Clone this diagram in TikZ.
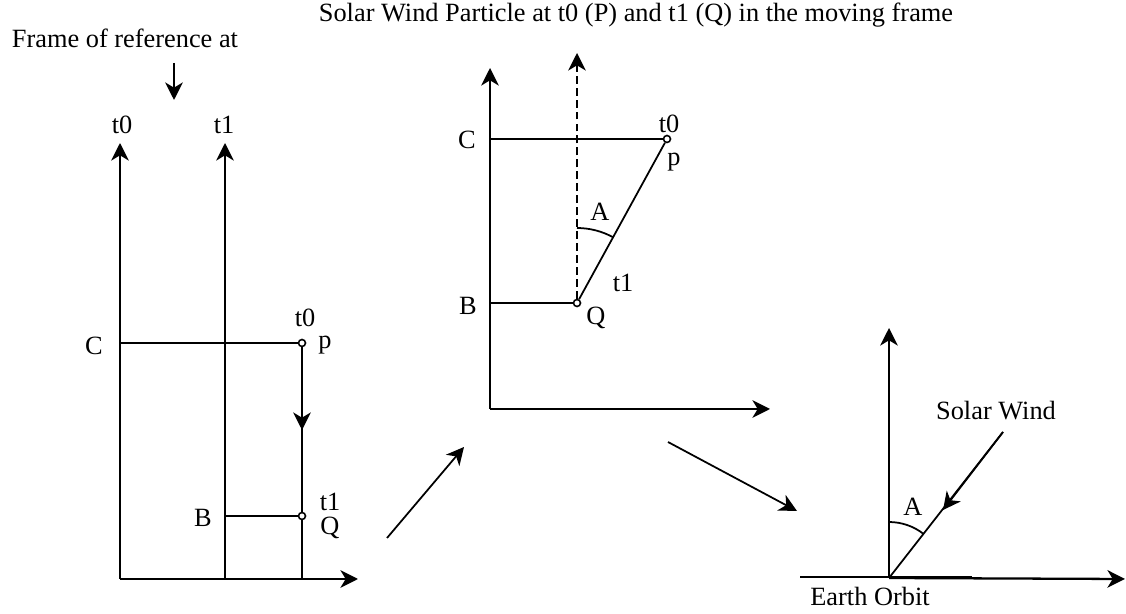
\documentclass[tikz,border=0pt]{standalone}
\usepackage{fontspec}
\setmainfont{Liberation Serif}
\usetikzlibrary{arrows.meta}
\tikzset{
    % Label style
    lbl/.style={
        inner sep=0pt,
        font=\fontsize{15}{18}\selectfont
    },
    % Particle position
    dotnode/.style={
        circle,
        draw,
        fill=white,
        line width=0.9pt,
        inner sep=0pt,
        minimum size=1.4mm
    },
    % Axis arrow style
    axisarrow/.style={
        -{Stealth[length=10pt,width=10pt,inset=3pt]},
        line width=1.3pt
    },
    % Thin arrow
    myarrow/.style={
        -{Stealth[length=10pt,width=10pt,inset=3pt]},
        line width=1pt
    },
    % Dashed arrow
    dasharrow/.style={
        myarrow,
        dash pattern=on 4.5pt off 2.3pt
    },
    % Plain line
    thinline/.style={
        line width=1pt
    },
    % Orbit line
    orbitline/.style={
        line width=1.6pt
    }
}
\begin{document}
\begin{tikzpicture}[x=0.02cm, y=-0.02cm]
    \useasboundingbox (0,0) rectangle (1126,614);

    % titles
    \node[lbl] (title) at (636,15) {Solar Wind Particle at t0 (P) and t1 (Q) in the moving frame};
    \node[lbl] (frameref) at (125,38) {Frame of reference at};
    \coordinate (fa1) at (174,63);
    \coordinate (fa2) at (174,100);
    \draw[myarrow] (fa1) -- (fa2);

    % left: fixed frame
    \coordinate (o1) at (120,579);
    \coordinate (ax1) at (120,143);
    \coordinate (ay1) at (358,579);
    \coordinate (tb) at (225,579);
    \coordinate (tt) at (225,143);
    \coordinate (c1) at (120,343);
    \coordinate (b1) at (225,516);
    \coordinate (pbot) at (302,579);
    \coordinate (pmid) at (302,430);
    \node[dotnode] (p1) at (302,343) {};
    \node[dotnode] (q1) at (302,516) {};
    \draw[axisarrow] (o1) -- (ax1);
    \draw[axisarrow] (tb) -- (tt);
    \draw[axisarrow] (o1) -- (ay1);
    \draw[thinline] (c1) -- (p1);
    \draw[thinline] (b1) -- (q1);
    \draw[thinline] (p1) -- (q1);
    \draw[thinline] (q1) -- (pbot);
    \draw[myarrow] (p1) -- (pmid);
    \node[lbl] (lt0) at (122,125) {t0};
    \node[lbl] (lt1) at (224,125) {t1};
    \node[lbl] (lc) at (94,346) {C};
    \node[lbl] (lb) at (203,518) {B};
    \node[lbl] (lpt0) at (305,318) {t0};
    \node[lbl] (lp) at (325,345) {p};
    \node[lbl] (lqt1) at (330,502) {t1};
    \node[lbl] (lq) at (330,528) {Q};

    % step arrows
    \coordinate (s1a) at (387,538);
    \coordinate (s1b) at (464,447);
    \coordinate (s2a) at (668,442);
    \coordinate (s2b) at (797,511);
    \draw[myarrow] (s1a) -- (s1b);
    \draw[myarrow] (s2a) -- (s2b);

    % middle: moving frame
    \coordinate (o2) at (490,409);
    \coordinate (ax2) at (490,68);
    \coordinate (ay2) at (770,409);
    \coordinate (c2) at (490,139);
    \coordinate (b2) at (490,303);
    \coordinate (dtop) at (577,53);
    \node[dotnode] (p2) at (667,139) {};
    \node[dotnode] (q2) at (577,303) {};
    \draw[axisarrow] (o2) -- (ax2);
    \draw[axisarrow] (o2) -- (ay2);
    \draw[thinline] (c2) -- (p2);
    \draw[thinline] (b2) -- (q2);
    \draw[thinline] (q2) -- (p2);
    \draw[dasharrow] (q2) -- (dtop);
    \draw[thinline] ([yshift=1.5cm]q2.center) arc[start angle=90, end angle=61.2, radius=1.5cm];
    \node[lbl] (mc) at (467,140) {C};
    \node[lbl] (mb) at (468,306) {B};
    \node[lbl] (mt0) at (669,124) {t0};
    \node[lbl] (mp) at (674,162) {p};
    \node[lbl] (ma) at (600,212) {A};
    \node[lbl] (mt1) at (623,283) {t1};
    \node[lbl] (mq) at (596,318) {Q};

    % right: earth orbit
    \coordinate (o3) at (889,578);
    \coordinate (ax3) at (889,328);
    \coordinate (ay3) at (1125,579);
    \coordinate (eo1) at (800,577);
    \coordinate (eo2) at (972,577);
    \coordinate (sw) at (1003,432);
    \coordinate (swmid) at (943,510);
    \draw[axisarrow] (o3) -- (ax3);
    \draw[axisarrow] (o3) -- (ay3);
    \draw[orbitline] (eo1) -- (eo2);
    \draw[thinline] (sw) -- (o3);
    \draw[myarrow] (sw) -- (swmid);
    \draw[thinline] ([yshift=1.12cm]o3) arc[start angle=90, end angle=52, radius=1.12cm];
    \node[lbl] (solarwind) at (996,411) {Solar Wind};
    \node[lbl] (ra) at (913,507) {A};
    \node[lbl] (earthorbit) at (870,596) {Earth Orbit};
\end{tikzpicture}
\end{document}
